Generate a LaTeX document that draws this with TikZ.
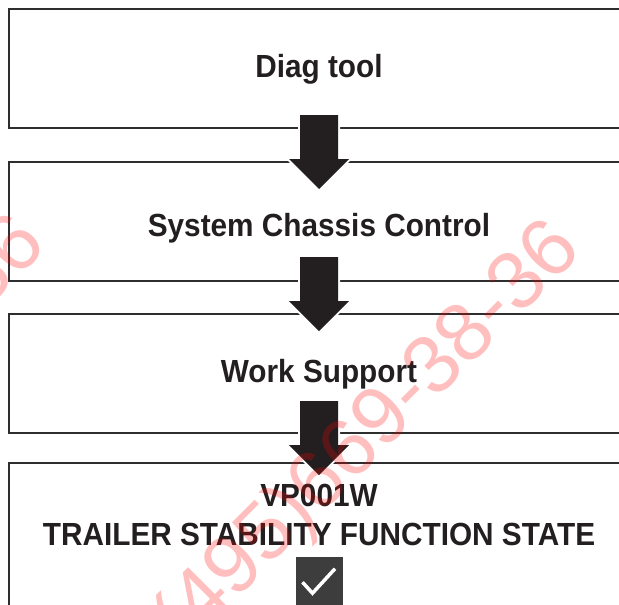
\documentclass[tikz,border=0pt]{standalone}
\usepackage{fontspec}
\setmainfont{Liberation Sans}[FakeStretch=0.93]
\newfontfamily\wmfont{Liberation Sans}
\usetikzlibrary{calc}
\definecolor{linegray}{HTML}{2E2E2E}
\definecolor{ink}{HTML}{231F20}
\definecolor{chkgray}{HTML}{3D3D3D}
\newcommand\blockarrow[2]{%
  \path (#1.south -| ax) ++(0,-#2) coordinate (#1-top);
  \path[bigarrow] (#1-top) ++(-19,0) -- ++(38,0) -- ++(0,44) -- ++(11,0) -- ++(-30,30) -- ++(-30,-30) -- ++(11,0) -- cycle;}
\begin{document}
\begin{tikzpicture}[x=1pt,y=-1pt,
  box/.style={draw=linegray, line width=1.3pt, minimum width=700pt, minimum height=119pt, anchor=north west, inner sep=0pt, outer sep=0pt},
  lbl/.style={anchor=base, inner sep=0pt, text=ink, font=\fontsize{32}{38}\selectfont\bfseries},
  bigarrow/.style={fill=ink, preaction={draw=white, line width=4pt, line join=miter}},
  wm/.style={text=red, opacity=0.25, rotate=45, anchor=mid east, inner sep=0pt, font=\wmfont\fontsize{82}{90}\selectfont}]
\useasboundingbox (0,0) rectangle (619,605);
\clip (0,0) rectangle (619,605);
\coordinate (ax) at (319,0);
% boxes
\node[box] (b1) at (9,9) {};
\node[box] (b2) at (9,162) {};
\node[box] (b3) at (9,314) {};
\node[box, minimum height=200pt] (b4) at (9,463) {};
% labels
\node[lbl] (t1) at (319,77) {Diag tool};
\node[lbl] (t2) at (319,236) {System Chassis Control};
\node[lbl] (t3) at (319,382) {Work Support};
\node[lbl] (t4a) at (319,506) {VP001W};
\node[lbl] (t4b) at (319,545) {TRAILER STABILITY FUNCTION STATE};
% checkbox
\node[fill=chkgray, minimum width=47pt, minimum height=50pt, anchor=north, inner sep=0pt] (chk) at (319.5,557) {};
\draw[white, line width=3.5pt] ($(chk.center)+(-17,0)$) -- ($(chk.center)+(-7,11)$) -- ($(chk.center)+(15.5,-13.5)$);
% arrows
\blockarrow{b1}{13}
\blockarrow{b2}{24}
\blockarrow{b3}{32}
% watermark
\node[wm] (wm1) at (582,250) {+7(495)669-38-36};
\node[wm] (wm2) at (47,245) {+7(495)669-38-36};
\end{tikzpicture}
\end{document}
